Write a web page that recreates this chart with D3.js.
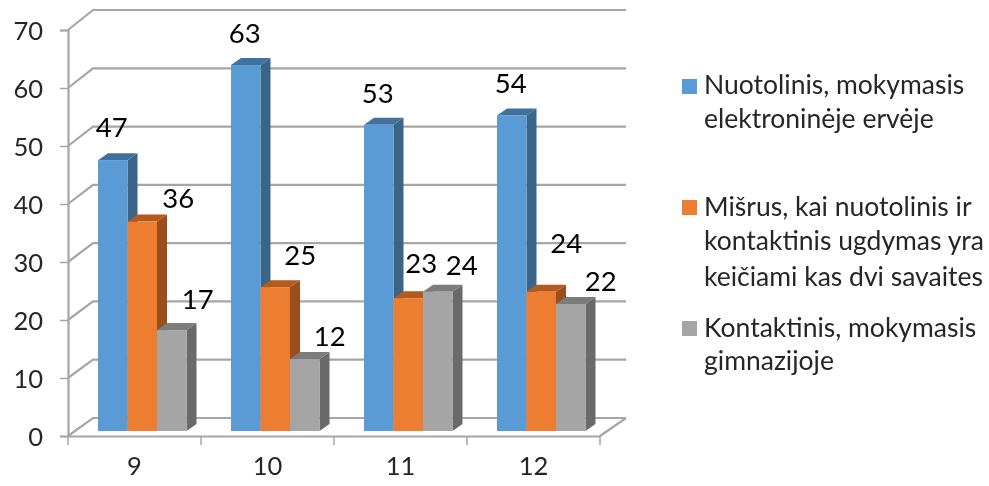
<!DOCTYPE html>
<html lang="lt">
<head>
<meta charset="utf-8">
<script src="https://cdn.jsdelivr.net/npm/d3@7"></script>
<style>
html,body{margin:0;padding:0;background:#fff;overflow:hidden}
svg{display:block;font-family:Lato,"Open Sans",sans-serif;filter:blur(0.45px)}
</style>
</head>
<body>
<svg id="chart" width="989" height="486"></svg>
<script>
// --- data ---
const categories = ["9", "10", "11", "12"];
const seriesNames = ["Nuotolinis", "Mišrus", "Kontaktinis"];
const nuotolinis = [46.7, 63.1, 52.8, 54.4];
const misrus = [36.1, 24.8, 22.9, 24.0];
const kontaktinis = [17.4, 12.4, 24.0, 21.9];
const yTicks = [0, 10, 20, 30, 40, 50, 60, 70];
const legendLines = [
  ["Nuotolinis, mokymasis", "elektroninėje ervėje"],
  ["Mišrus, kai nuotolinis ir", "kontaktinis ugdymas yra", "keičiami kas dvi savaites"],
  ["Kontaktinis, mokymasis", "gimnazijoje"]
];

// --- style and layout ---
const seriesValues = [nuotolinis, misrus, kontaktinis];
const colors = [
  {front: "#5b9bd5", top: "#41719c", side: "#3b6489"},
  {front: "#ed7d31", top: "#b55a1f", side: "#9a4e1b"},
  {front: "#a5a5a5", top: "#7c7c7c", side: "#6a6a6a"}
];
const grid = "#a6a6a6";
const depth = {x: 25, y: 18};
const barDepth = {x: 10, y: 7};
// hand placement of the data labels, by series then category: [dx from bar centre, gap above bar]
const labelNudge = [
  [[-1, 23], [-1, 22], [-1, 22], [-1, 22]],
  [[36, 14], [25, 22], [13, 25], [25, 39]],
  [[26, 21], [25, 13], [24, 17], [30, 13]]
];
const legendLayout = [
  {swatch: 79, baselines: [94, 128]},
  {swatch: 200, baselines: [216, 250, 286]},
  {swatch: 321, baselines: [337, 370]}
];

const svg = d3.select("#chart");
const x0 = d3.scaleBand().domain(categories).range([68, 600]);
const x1 = d3.scaleBand().domain(seriesNames).range([30, 118.5]);
const yFront = d3.scaleLinear().domain([0, 70]).range([436, 30]);
const yBack = d3.scaleLinear().domain([0, 70]).range([418, 10]);
const yBar = d3.scaleLinear().domain([0, 70]).range([431, 25]);

// walls and floor
const wall = svg.append("g").attr("fill", "none").attr("stroke", grid).attr("stroke-width", 2.2);
const backLeft = x0.range()[0] + depth.x;
const backRight = x0.range()[1] + 26;
const path = d3.line();
yTicks.forEach(v => {
  wall.append("path").attr("d", path([
    [x0.range()[0], yFront(v)], [backLeft, yBack(v)], [backRight, yBack(v)]
  ]));
});
wall.append("path").attr("d", path([
  [x0.range()[1], yFront(0)], [backRight, yBack(0)]
]));

// axes
const axisY = d3.axisLeft(yFront).tickValues(yTicks).tickSize(8).tickPadding(17).tickFormat(d3.format("d"));
const gy = svg.append("g").attr("transform", `translate(${x0.range()[0]},0)`).call(axisY);
const axisX = d3.axisBottom(x0).tickSize(0).tickPadding(21);
const gx = svg.append("g").attr("transform", `translate(0,${yFront(0)})`).call(axisX);
gx.selectAll(".tick line").remove();
gx.append("g").selectAll("line")
  .data(d3.range(categories.length).map(i => x0(categories[i])).concat(x0.range()[1]))
  .join("line")
  .attr("x1", d => d).attr("x2", d => d).attr("y1", 0).attr("y2", 9)
  .attr("stroke", grid).attr("stroke-width", 1.5);
[gy, gx].forEach(g => {
  g.select(".domain").attr("stroke", grid).attr("stroke-width", 2.2);
  g.selectAll(".tick line").attr("stroke", grid).attr("stroke-width", 1.5);
  g.selectAll("text").attr("fill", "#262626").attr("font-size", 25.5).attr("font-family", "Lato");
});
gy.selectAll("text").attr("dy", "0.36em");

// bars
const bars = svg.append("g");
categories.forEach((cat, c) => {
  seriesNames.forEach((name, s) => {
    const v = seriesValues[s][c];
    const l = x0(cat) + x1(name), w = x1.bandwidth();
    const r = l + w, t = yBar(v), b = yBar(0);
    const g = bars.append("g");
    g.append("path").attr("fill", colors[s].side).attr("d", path([
      [r, t], [r + barDepth.x, t - barDepth.y], [r + barDepth.x, b - barDepth.y], [r, b]
    ]) + "Z");
    g.append("path").attr("fill", colors[s].top).attr("d", path([
      [l, t], [l + barDepth.x, t - barDepth.y], [r + barDepth.x, t - barDepth.y], [r, t]
    ]) + "Z");
    g.append("rect").attr("x", l).attr("y", t).attr("width", w).attr("height", b - t)
      .attr("fill", colors[s].front);
  });
});

// data labels
const fmt = d3.format(".0f");
categories.forEach((cat, c) => {
  seriesNames.forEach((name, s) => {
    const v = seriesValues[s][c];
    const [dx, gap] = labelNudge[s][c];
    svg.append("text")
      .attr("x", x0(cat) + x1(name) + x1.bandwidth() / 2 + dx)
      .attr("y", yBar(v) - gap)
      .attr("text-anchor", "middle")
      .attr("font-size", 27.5).attr("fill", "#000")
      .text(fmt(v));
  });
});

// legend
const legend = svg.append("g");
legendLines.forEach((lines, i) => {
  legend.append("rect").attr("x", 682).attr("y", legendLayout[i].swatch)
    .attr("width", 15).attr("height", 15).attr("fill", colors[i].front);
  lines.forEach((line, j) => {
    legend.append("text").attr("x", 704).attr("y", legendLayout[i].baselines[j])
      .attr("font-size", 26.5).attr("fill", "#262626").text(line);
  });
});
</script>
</body>
</html>
